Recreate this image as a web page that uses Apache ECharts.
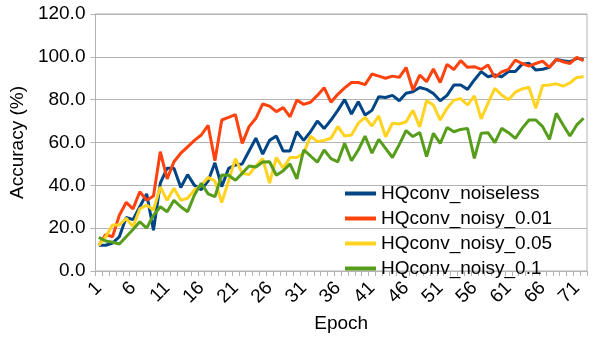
<!DOCTYPE html>
<html>
<head>
<meta charset="utf-8">
<script src="https://cdn.jsdelivr.net/npm/echarts@6.0.0/dist/echarts.min.js"></script>
<style>
  html, body { margin: 0; padding: 0; background: #ffffff; }
  #chart { width: 605px; height: 340px; }
</style>
</head>
<body>
<div id="chart"></div>
<script>
// epochs 1..72
const epochs = Array.from({length: 72}, (_, i) => String(i + 1));

const noiseless = [12, 12, 13, 16, 25, 24, 30, 36, 19, 41, 48, 48, 39, 45, 40, 38, 42, 50.5, 39.4, 47.9,
  49.5, 50, 56, 62, 54.6, 61, 63, 56, 56, 65, 61, 65, 70, 66.5, 70.5, 75, 80, 73.3, 79, 72.8,
  75, 81.4, 81, 82, 79.5, 83, 83.7, 85.7, 84.8, 82.9, 79.5, 82, 86.8, 86.8, 84.8, 89.2, 93.1, 90.7, 91.5, 90.7,
  93.1, 93.1, 96.6, 97, 93.8, 94.2, 95.1, 98.8, 98.2, 97.7, 99.3, 98.8];

const noisy001 = [12, 17, 16, 26, 32, 29, 37, 33, 35, 55.7, 43, 51, 55, 58, 61, 63.5, 68, 51.5, 70.5, 71.7,
  73, 59.6, 67.4, 71.3, 78, 77, 74.4, 76.3, 72, 79.8, 77.8, 78.8, 82, 85.6, 78.8, 82.5, 85.5, 88, 88, 87,
  92, 91, 90, 91, 90.4, 95, 84.5, 91.5, 88.4, 94.3, 88, 96.5, 94.1, 98.2, 95.1, 95.4, 94.1, 96.2, 90.4, 93,
  94.1, 98.5, 96.9, 95.7, 96.9, 98, 95.1, 98.8, 97.7, 96.9, 99.7, 98.2];

const noisy005 = [12, 16, 21.5, 21.5, 24.6, 20.7, 29, 30.8, 28.5, 39.3, 33, 38.6, 33, 34, 37.8, 40, 43.7, 42, 32, 42,
  52.5, 45.6, 45, 49, 52.5, 41, 53, 48, 53, 53, 55, 63, 60.4, 61, 62, 67.5, 63, 63.5, 69, 71.7,
  67.7, 72.4, 62.7, 69, 68.6, 69.7, 75, 67.3, 79.5, 77.5, 70.5, 76, 79.8, 80.5, 77.5, 81.8, 71, 78.4, 85.3, 82.2,
  80, 83.5, 85, 85.8, 76, 86.6, 86.9, 87.4, 86.3, 87.8, 90.4, 90.7];

const noisy01 = [15.7, 14, 13.4, 12.6, 16, 19.4, 23, 20, 26, 30, 27.7, 33, 30, 27.7, 35.5, 41, 36, 34.7, 44.8, 44.7,
  42.4, 45.6, 49, 48.6, 50.9, 51, 44.7, 46.8, 50, 43, 56.5, 53.7, 50.8, 56.5, 52.5, 51, 59.6, 51.5, 56.5, 63,
  55, 61.5, 57.3, 53, 59, 65.6, 62.8, 64.7, 53.4, 64.3, 59.6, 67, 65, 66.1, 66.6, 52.6, 64.3, 64.6, 59.9, 66.6,
  64.6, 61.9, 66.6, 70.5, 70.5, 67.4, 61.5, 73.6, 68.2, 63, 68.2, 71.3];

const seriesNames = ['HQconv_noiseless', 'HQconv_noisy_0.01', 'HQconv_noisy_0.05', 'HQconv_noisy_0.1'];
const seriesData = [noiseless, noisy001, noisy005, noisy01];
const colors = ['#004586', '#ff420e', '#ffd320', '#579d1c'];

const font = 'Liberation Sans';

let chart = echarts.init(document.getElementById('chart'));
let option = {
  animation: false,
  color: colors,
  textStyle: {fontFamily: font, color: '#000'},
  grid: {
    left: 83, right: 18, top: 14, bottom: 69,
    show: true, borderColor: '#b3b3b3', borderWidth: 1
  },
  legend: {
    orient: 'vertical',
    left: 340,
    top: 179,
    itemWidth: 31,
    itemHeight: 4,
    itemGap: 6,
    icon: 'rect',
    textStyle: {fontFamily: font, fontSize: 19, color: '#000'},
    data: seriesNames
  },
  xAxis: {
    type: 'category',
    data: epochs,
    boundaryGap: true,
    name: 'Epoch',
    nameLocation: 'middle',
    nameGap: 43,
    nameTextStyle: {fontFamily: font, fontSize: 19, color: '#000'},
    axisLine: {lineStyle: {color: '#b3b3b3'}},
    axisTick: {show: true, interval: 0, length: 5, lineStyle: {color: '#b3b3b3'}},
    axisLabel: {interval: 4, rotate: 45, fontSize: 19, color: '#000', fontFamily: font, margin: 14},
    splitLine: {show: false}
  },
  yAxis: {
    type: 'value',
    min: 0, max: 120, interval: 20,
    name: 'Accuracy (%)',
    nameLocation: 'middle',
    nameGap: 56,
    nameTextStyle: {fontFamily: font, fontSize: 19, color: '#000'},
    axisLine: {show: true, lineStyle: {color: '#b3b3b3'}},
    axisTick: {show: true, length: 5, lineStyle: {color: '#b3b3b3'}},
    axisLabel: {
      fontSize: 19, color: '#000', fontFamily: font, margin: 10,
      formatter: v => v.toFixed(1)
    },
    splitLine: {lineStyle: {color: '#b3b3b3'}}
  },
  series: seriesNames.map((name, k) => ({
    name: name,
    type: 'line',
    data: seriesData[k],
    showSymbol: false,
    symbol: 'none',
    lineStyle: {width: 3, color: colors[k]}
  }))
};
chart.setOption(option);
</script>
</body>
</html>
